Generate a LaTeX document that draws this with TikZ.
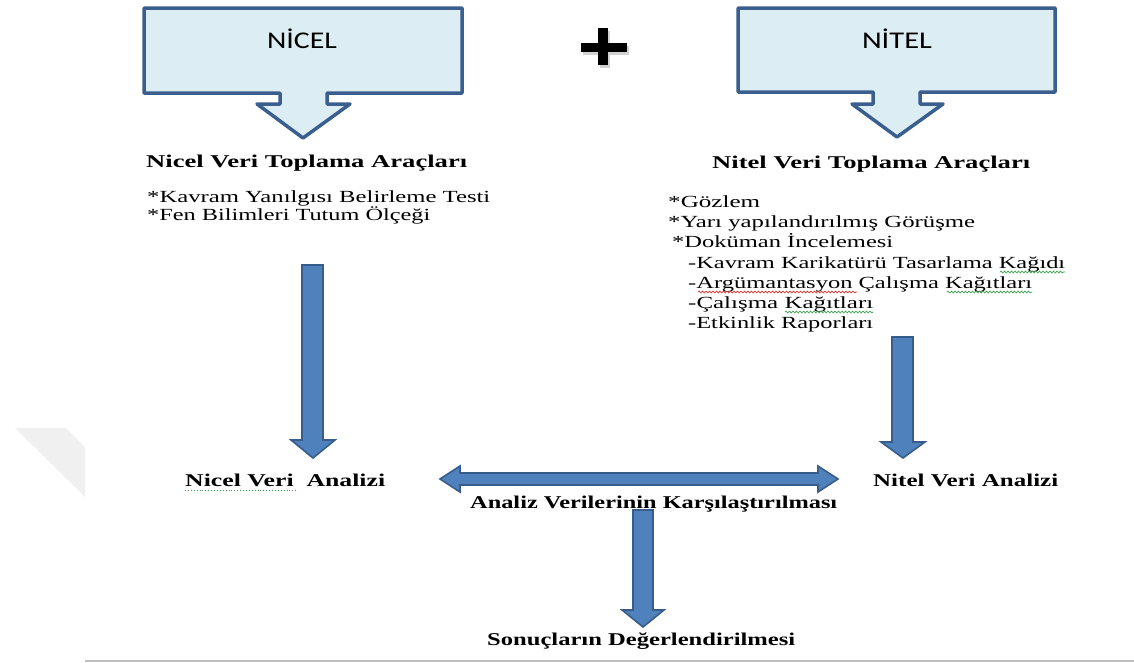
\documentclass[tikz,border=0pt]{standalone}
\usepackage{fontspec}
\setmainfont{Liberation Serif}
\newfontfamily\calfont{Carlito}
\usepackage{graphicx}
\usetikzlibrary{decorations.pathmorphing}
\definecolor{boxfill}{HTML}{DCEEF4}
\definecolor{boxline}{HTML}{3A5F8E}
\definecolor{arrfill}{HTML}{4F81BD}
\definecolor{arrline}{HTML}{385D8A}
\definecolor{wavered}{HTML}{E03030}
\definecolor{wavegreen}{HTML}{3CA050}
\newcommand{\fitw}[2]{\resizebox{#1}{\height}{#2}}
\tikzset{
  callout/.style={draw=boxline, fill=boxfill, line width=3.5pt, line join=round},
  blockarrow/.style={draw=arrline, fill=arrfill, line width=1.6pt, line join=miter},
  txt/.style={inner sep=0pt, anchor=base west, font=\fontsize{17}{20}\selectfont},
  hdr/.style={inner sep=0pt, anchor=base west, font=\fontsize{18}{21}\selectfont\bfseries},
  ttl/.style={inner sep=0pt, anchor=base},
  wavy/.style={decorate, decoration={snake, amplitude=0.9pt, segment length=3.5pt}, line width=0.7pt}
}
\begin{document}
\begin{tikzpicture}[x=1pt,y=-1pt]
\useasboundingbox (0,0) rectangle (1134,662);
% faint watermark and bottom rule
\fill[gray!12] (15,428) -- (66,428) -- (85,447) -- (85,497) -- cycle;
\draw[gray!50, line width=1.5pt] (85,661) -- (1134,661);

% callout boxes
\draw[callout] (144,8) -- (462,8) -- (462,93) -- (327,93) -- (327,104) -- (350,104)
  -- (303,138) -- (257,104) -- (280,104) -- (280,93) -- (144,93) -- cycle;
\node[ttl] (nicel) at (302,48) {\calfont\fontsize{24}{28}\selectfont\fitw{70pt}{N\.ICEL}};
\draw[callout] (738,8) -- (1055,8) -- (1055,92) -- (920,92) -- (920,104) -- (943,104)
  -- (897,137) -- (852,104) -- (873,104) -- (873,92) -- (738,92) -- cycle;
\node[ttl] (nitel) at (897,48) {\calfont\fontsize{24}{28}\selectfont\fitw{70pt}{N\.ITEL}};

% plus sign
\fill[gray!35] (583,46) rectangle (629,55);
\fill[gray!35] (600,31) rectangle (610,68);
\fill[black] (581,43) rectangle (627,52);
\fill[black] (598,28) rectangle (608,65);

% left column texts
\node[hdr] (nh) at (146,167) {\fitw{321pt}{Nicel Veri Toplama Araçları}};
\node[txt] (n1) at (147,202) {\fitw{343pt}{*Kavram Yanılgısı Belirleme Testi}};
\node[txt] (n2) at (147,220) {\fitw{283pt}{*Fen Bilimleri Tutum Ölçeği}};

% right column texts
\node[hdr] (th) at (712,168) {\fitw{318pt}{Nitel Veri Toplama Araçları}};
\node[txt] (t1) at (668,207) {\fitw{92pt}{*Gözlem}};
\node[txt] (t2) at (668,227) {\fitw{307pt}{*Yarı yapılandırılmış Görüşme}};
\node[txt] (t3) at (672,247) {\fitw{221pt}{*Doküman İncelemesi}};
\node[txt] (t4) at (688,268) {\fitw{377pt}{-Kavram Karikatürü Tasarlama Kağıdı}};
\node[txt] (t5) at (688,288) {\fitw{344pt}{-Argümantasyon Çalışma Kağıtları}};
\node[txt] (t6) at (688,308) {\fitw{185pt}{-Çalışma Kağıtları}};
\node[txt] (t7) at (688,328) {\fitw{185pt}{-Etkinlik Raporları}};

% spell-check underlines
\draw[wavy, wavegreen] (1000,272) -- (1065,272);
\draw[wavy, wavered] (698,292) -- (857,292);
\draw[wavy, wavegreen] (947,292) -- (1032,292);
\draw[wavy, wavegreen] (785,312) -- (873,312);
\draw[wavegreen, line width=0.9pt, dotted] (185,490) -- (298,490);

% analysis labels
\node[hdr] (na) at (185,486) {\fitw{200pt}{Nicel Veri\ \ Analizi}};
\node[hdr] (ta) at (873,486) {\fitw{185pt}{Nitel Veri Analizi}};
\node[hdr] (cmp) at (470,508) {\fitw{367pt}{Analiz Verilerinin Karşılaştırılması}};
\node[hdr] (res) at (487,645) {\fitw{308pt}{Sonuçların Değerlendirilmesi}};

% blue block arrows
\draw[blockarrow] (302,265) -- (323,265) -- (323,440) -- (335,440) -- (313,458)
  -- (291,440) -- (302,440) -- cycle;
\draw[blockarrow] (892,337) -- (913,337) -- (913,442) -- (925,442) -- (903,458)
  -- (881,442) -- (892,442) -- cycle;
\draw[blockarrow] (440,479) -- (460,466) -- (460,473) -- (818,473) -- (818,466)
  -- (838,479) -- (818,492) -- (818,485) -- (460,485) -- (460,492) -- cycle;
\draw[blockarrow] (633,510) -- (653,510) -- (653,610) -- (664,610) -- (643,627)
  -- (622,610) -- (633,610) -- cycle;
\end{tikzpicture}
\end{document}
